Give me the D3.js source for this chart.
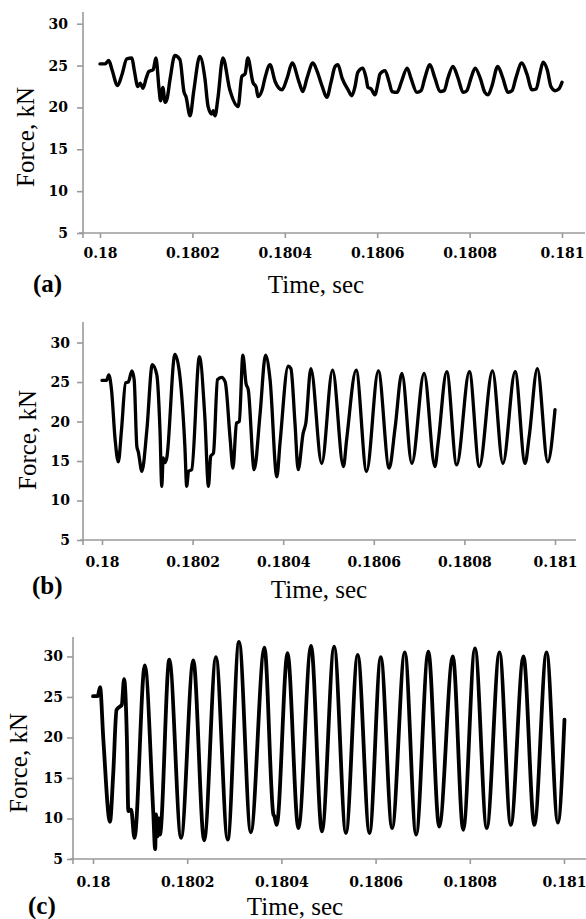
<!DOCTYPE html>
<html>
<head>
<meta charset="utf-8">
<script src="https://cdn.jsdelivr.net/npm/d3@7"></script>
<style>
  body { margin: 0; background: #fff; }
  svg { display: block; }
</style>
</head>
<body>
<svg id="chart" width="586" height="919"></svg>
<script>
// ---------------- data ----------------
const timeTicks = [0.18, 0.1802, 0.1804, 0.1806, 0.1808, 0.181];
const timeTickLabels = ["0.18", "0.1802", "0.1804", "0.1806", "0.1808", "0.181"];
const forceTicks = [5, 10, 15, 20, 25, 30];
const panelLetters = ["(a)", "(b)", "(c)"];
const xTitle = "Time, sec";
const yTitle = "Force, kN";

const timeA = [
  0.180000,0.180011,0.180019,0.180026,0.180038,0.180048,0.180058,0.180069,0.180074,0.180082,
  0.180087,0.180093,0.180100,0.180106,0.180115,0.180121,0.180128,0.180131,0.180136,0.180141,
  0.180145,0.180152,0.180162,0.180173,0.180182,0.180186,0.180195,0.180203,0.180216,0.180227,
  0.180234,0.180242,0.180245,0.180249,0.180255,0.180266,0.180281,0.180299,0.180307,0.180314,
  0.180320,0.180331,0.180338,0.180342,0.180351,0.180357,0.180368,0.180379,0.180394,0.180405,
  0.180416,0.180431,0.180439,0.180448,0.180461,0.180470,0.180481,0.180491,0.180500,0.180509,
  0.180515,0.180524,0.180537,0.180545,0.180552,0.180558,0.180569,0.180576,0.180580,0.180587,
  0.180595,0.180602,0.180606,0.180617,0.180626,0.180632,0.180643,0.180652,0.180665,0.180673,
  0.180686,0.180695,0.180703,0.180714,0.180725,0.180736,0.180745,0.180753,0.180764,0.180775,
  0.180786,0.180794,0.180803,0.180812,0.180823,0.180833,0.180840,0.180848,0.180861,0.180872,
  0.180883,0.180892,0.180900,0.180913,0.180924,0.180935,0.180944,0.180952,0.180959,0.180968,
  0.180976,0.180985,0.180993,0.181000
];
const forceA = [
  25.2,25.2,25.6,24.5,22.6,24.0,25.8,25.9,24.5,22.5,
  22.9,22.3,23.5,24.3,24.5,25.9,22.1,20.8,22.4,20.6,
  21.0,23.5,26.2,25.7,21.8,21.3,19.0,22.0,26.1,23.5,
  20.1,19.2,19.6,19.0,21.0,25.9,22.1,20.1,23.7,24.0,
  25.9,23.0,22.4,21.3,22.1,23.5,25.1,23.1,22.1,23.5,
  25.3,23.0,21.9,23.5,25.3,24.3,22.5,21.2,23.0,24.9,
  25.1,23.5,22.1,21.4,22.5,24.2,24.7,23.5,22.4,22.2,
  21.5,23.0,24.0,24.4,23.0,21.9,21.8,23.0,24.7,23.5,
  21.8,22.0,23.5,25.1,23.5,21.9,22.0,23.5,24.9,23.5,
  21.8,22.0,23.5,24.7,23.5,21.8,21.5,22.5,24.9,23.5,
  21.8,22.0,23.5,25.3,24.0,22.1,22.2,24.0,25.4,24.5,
  22.5,22.0,22.2,23.0
];

const timeB = [
  0.180000,0.180010,0.180015,0.180021,0.180029,0.180036,0.180043,0.180052,0.180058,0.180066,
  0.180071,0.180077,0.180080,0.180088,0.180099,0.180111,0.180121,0.180128,0.180132,0.180135,
  0.180139,0.180143,0.180161,0.180172,0.180183,0.180187,0.180191,0.180198,0.180215,0.180227,
  0.180235,0.180240,0.180246,0.180255,0.180264,0.180272,0.180283,0.180289,0.180297,0.180303,
  0.180311,0.180318,0.180323,0.180336,0.180349,0.180361,0.180371,0.180386,0.180393,0.180411,
  0.180417,0.180426,0.180433,0.180444,0.180450,0.180461,0.180485,0.180509,0.180533,0.180540,
  0.180561,0.180584,0.180610,0.180634,0.180647,0.180662,0.180684,0.180711,0.180735,0.180742,
  0.180761,0.180783,0.180811,0.180833,0.180862,0.180885,0.180912,0.180934,0.180943,0.180961,
  0.180984,0.181000
];
const forceB = [
  25.2,25.2,25.9,24.0,17.7,14.9,18.9,24.9,25.0,26.4,
  25.3,16.8,16.2,13.7,18.9,27.2,25.9,18.9,11.8,15.4,
  14.8,15.4,28.5,25.7,16.8,11.8,13.7,13.9,28.2,20.6,
  11.8,15.6,16.0,25.3,25.6,25.0,17.7,14.1,19.8,20.0,
  28.4,24.8,24.0,13.9,21.0,28.4,25.3,13.0,17.3,27.0,
  26.7,19.8,13.9,18.5,19.8,26.7,14.7,26.5,14.3,17.7,
  26.5,13.7,26.4,14.1,19.2,26.1,14.7,26.1,14.3,17.3,
  26.3,14.5,26.3,14.3,26.4,14.7,26.3,14.7,18.1,26.7,
  14.9,21.5
];

const timeC = [
  0.180000,0.180010,0.180015,0.180022,0.180036,0.180043,0.180050,0.180057,0.180061,0.180066,
  0.180072,0.180075,0.180081,0.180088,0.180110,0.180128,0.180132,0.180134,0.180137,0.180140,
  0.180142,0.180162,0.180187,0.180213,0.180236,0.180261,0.180286,0.180310,0.180335,0.180364,
  0.180383,0.180385,0.180390,0.180413,0.180436,0.180463,0.180486,0.180512,0.180537,0.180562,
  0.180587,0.180611,0.180635,0.180662,0.180686,0.180712,0.180735,0.180764,0.180786,0.180811,
  0.180836,0.180863,0.180887,0.180914,0.180937,0.180963,0.180987,0.181001
];
const forceC = [
  25.1,25.1,26.2,19.7,9.6,15.6,23.4,23.8,24.0,27.2,
  19.7,10.9,11.1,7.6,28.9,10.7,6.2,10.5,7.8,10.0,
  8.0,29.6,7.6,29.5,7.3,29.9,7.4,31.8,8.3,31.1,
  10.5,10.3,9.2,30.4,8.8,31.3,8.4,31.2,8.2,30.2,
  8.2,29.9,8.8,30.5,8.0,30.6,9.0,30.0,8.6,31.0,
  8.8,30.5,9.2,30.0,9.2,30.5,9.5,22.2
];

// ---------------- layout (pixels) ----------------
const panels = [
  { time: timeA, force: forceA, letter: panelLetters[0],
    xLeft: 100, xRight: 562, axisX: 83, axisL: 79, axisR: 585,
    yBottom: 233, yTopPx: 12, yTopVal: 31.4, yLabPad: 15, xLabBase: 25,
    yTitleX: 34, yTitleY: 137, xTitleX: 316, xTitleY: 293, letterX: 33, letterY: 292, lw: 3.4 },
  { time: timeB, force: forceB, letter: panelLetters[1],
    xLeft: 102, xRight: 555, axisX: 83, axisL: 80, axisR: 576,
    yBottom: 540, yTopPx: 322, yTopVal: 32.6, yLabPad: 13, xLabBase: 27,
    yTitleX: 36, yTitleY: 440, xTitleX: 319, xTitleY: 598, letterX: 32, letterY: 594, lw: 3.3 },
  { time: timeC, force: forceC, letter: panelLetters[2],
    xLeft: 93, xRight: 564, axisX: 73, axisL: 70, axisR: 586,
    yBottom: 859, yTopPx: 637, yTopVal: 32.4, yLabPad: 10, xLabBase: 28,
    yTitleX: 27, yTitleY: 763, xTitleX: 295, xTitleY: 915, letterX: 28, letterY: 914, lw: 3.8 }
];

const svg = d3.select("#chart");
svg.append("rect").attr("width", 586).attr("height", 919).attr("fill", "#fff");

const axisColor = "#9a9a9a";
const tickFont = "'DejaVu Serif', serif";
const titleFont = "'Liberation Serif', 'Times New Roman', serif";

panels.forEach(p => {
  const x = d3.scaleLinear().domain([timeTicks[0], timeTicks[timeTicks.length - 1]]).range([p.xLeft, p.xRight]);
  const y = d3.scaleLinear().domain([forceTicks[0], p.yTopVal]).range([p.yBottom, p.yTopPx]);
  const g = svg.append("g");

  // x axis
  const xAxis = d3.axisBottom(x)
    .tickValues(timeTicks)
    .tickFormat((d, i) => timeTickLabels[i])
    .tickSize(5).tickSizeOuter(0);
  const gx = g.append("g").attr("transform", `translate(0,${p.yBottom})`).call(xAxis);
  gx.select(".domain").remove();
  gx.append("line").attr("x1", p.axisL).attr("x2", p.axisR).attr("y1", 0).attr("y2", 0)
    .attr("stroke", axisColor).attr("stroke-width", 1.6);
  gx.selectAll(".tick line").attr("stroke", axisColor).attr("stroke-width", 1.6);
  gx.selectAll(".tick text")
    .attr("y", p.xLabBase).attr("dy", 0)
    .attr("fill", "#000").attr("font-family", tickFont).attr("font-weight", "bold").attr("font-size", 14);

  // y axis
  const yAxis = d3.axisLeft(y).tickValues(forceTicks).tickSize(6).tickSizeOuter(0)
    .tickPadding(p.yLabPad - 6);
  const gy = g.append("g").attr("transform", `translate(${p.axisX},0)`).call(yAxis);
  gy.select(".domain").remove();
  gy.append("line").attr("x1", 0).attr("x2", 0).attr("y1", p.yTopPx).attr("y2", p.yBottom + 5)
    .attr("stroke", axisColor).attr("stroke-width", 1.6);
  gy.selectAll(".tick line").attr("stroke", axisColor).attr("stroke-width", 1.6);
  gy.selectAll(".tick text")
    .attr("fill", "#000").attr("font-family", tickFont).attr("font-weight", "bold").attr("font-size", 14);

  // curve
  const data = p.time.map((t, i) => [t, p.force[i]]);
  const line = d3.line().x(d => x(d[0])).y(d => y(d[1])).curve(d3.curveMonotoneX);
  g.append("path").datum(data).attr("d", line)
    .attr("fill", "none").attr("stroke", "#000").attr("stroke-width", p.lw)
    .attr("stroke-linejoin", "round").attr("stroke-linecap", "round");

  // titles
  g.append("text")
    .attr("transform", `translate(${p.yTitleX},${p.yTitleY}) rotate(-90)`)
    .attr("text-anchor", "middle")
    .attr("font-family", titleFont).attr("font-size", 25).attr("fill", "#000")
    .text(yTitle);
  g.append("text")
    .attr("x", p.xTitleX).attr("y", p.xTitleY)
    .attr("text-anchor", "middle")
    .attr("font-family", titleFont).attr("font-size", 25).attr("fill", "#000")
    .text(xTitle);
  g.append("text")
    .attr("x", p.letterX).attr("y", p.letterY)
    .attr("font-family", titleFont).attr("font-weight", "bold").attr("font-size", 25).attr("fill", "#000")
    .text(p.letter);
});
</script>
</body>
</html>
